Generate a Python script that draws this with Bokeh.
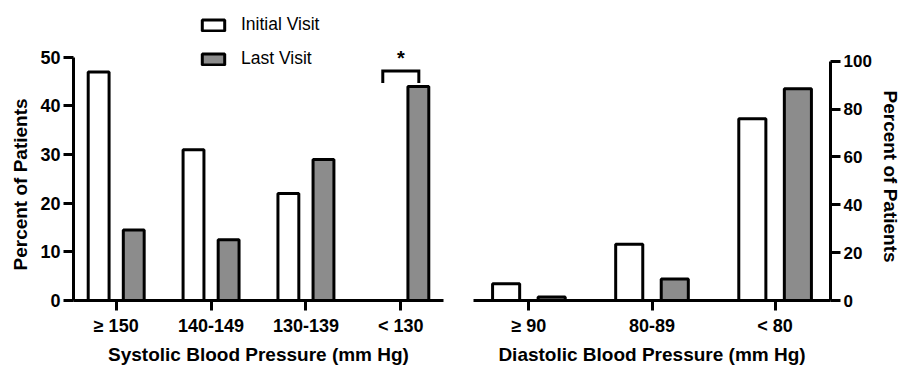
from bokeh.plotting import figure
from bokeh.layouts import row
from bokeh.models import (ColumnDataSource, FixedTicker, Legend, LegendItem,
                          Label, Range1d, Title)
from bokeh.transform import dodge
from bokeh.embed import file_html
from bokeh.resources import INLINE

# ---- data ----
sys_categories = ["\u2265 150", "140-149", "130-139", "< 130"]
sys_initial = [47, 31, 22, 0]
sys_last = [14.5, 12.5, 29, 44]

dia_categories = ["\u2265 90", "80-89", "< 80"]
dia_initial = [7, 23.5, 76]
dia_last = [1.5, 9, 88.5]

sys_ticks = [0, 10, 20, 30, 40, 50]
dia_ticks = [0, 20, 40, 60, 80, 100]
series_names = ["Initial Visit", "Last Visit"]
significant_category = "< 130"
y_title = "Percent of  Patients"

FONT = "Liberation Sans"
GRAY = "#8c8c8c"
OFFSET = 0.185
BAR_W = 0.22
H = 367
AXIS_Y = 301          # pixel row of the zero line
TOP_PAD = {"sys": 244.0, "dia": 240.0}   # pixel height of the bounded axes


def style(p, ticks, cats, ysize):
    p.xgrid.visible = False
    p.ygrid.visible = False
    p.outline_line_color = None
    p.background_fill_color = "white"
    p.border_fill_color = "white"
    for ax in p.xaxis + p.yaxis:
        ax.axis_line_width = 3
        ax.axis_line_color = "black"
        ax.major_tick_line_width = 3
        ax.major_tick_line_color = "black"
        ax.major_tick_in = 0
        ax.major_tick_out = 10
        ax.minor_tick_line_color = None
        ax.major_label_text_font = FONT
        ax.major_label_text_font_style = "bold"
        ax.major_label_text_color = "black"
        ax.axis_label_text_font = FONT
        ax.axis_label_text_font_style = "bold"
        ax.axis_label_text_font_size = "19px"
        ax.axis_label_text_color = "black"
    p.xaxis.major_label_text_font_size = "18px"
    p.yaxis.major_label_text_font_size = ysize
    p.xaxis.ticker = FixedTicker(ticks=list(range(len(cats))))
    p.xaxis.major_label_overrides = {i: c for i, c in enumerate(cats)}
    p.xaxis.major_label_standoff = 5
    p.xaxis.axis_label_standoff = 5
    p.yaxis.ticker = FixedTicker(ticks=ticks)
    p.yaxis.bounds = (ticks[0], ticks[-1])
    p.yaxis.major_label_standoff = 3


def bars(p, cats, init, last):
    src = ColumnDataSource(dict(x=list(range(len(cats))), init=init, last=last))
    r1 = p.vbar(x=dodge("x", -OFFSET), top="init", bottom=0, width=BAR_W,
                source=src, fill_color="white", line_color="black", line_width=3)
    r2 = p.vbar(x=dodge("x", OFFSET), top="last", bottom=0, width=BAR_W,
                source=src, fill_color=GRAY, line_color="black", line_width=3)
    return r1, r2


def ytitle(offset, standoff):
    return Title(text=y_title, align="left", offset=offset,
                 text_font=FONT, text_font_style="bold",
                 text_font_size="19px", text_color="black", standoff=standoff)


# ---- left: systolic ----
p1 = figure(width=458, height=H, output_backend="svg", toolbar_location=None,
            x_range=Range1d(-0.45, len(sys_categories) - 1 + 0.45),
            y_range=Range1d(0, sys_ticks[-1] * AXIS_Y / TOP_PAD["sys"]),
            min_border_left=73, min_border_right=15,
            min_border_top=0, min_border_bottom=H - AXIS_Y)
r1, r2 = bars(p1, sys_categories, sys_initial, sys_last)
style(p1, sys_ticks, sys_categories, "18px")
p1.xaxis.axis_label = "Systolic Blood Pressure (mm Hg)"
p1.add_layout(ytitle(30, 14), "left")

# significance bracket over "< 130"
k = sys_categories.index(significant_category)
leg_low = max(sys_initial[k], sys_last[k]) + 0.7
leg_high = leg_low + 2.5
bx = [k - OFFSET - 0.005, k - OFFSET - 0.005, k + OFFSET + 0.005, k + OFFSET + 0.005]
p1.line(x=bx, y=[leg_low, leg_high, leg_high, leg_low], line_color="black",
        line_width=3, line_join="miter")
p1.add_layout(Label(x=k, y=leg_high + 2.6, text="*", text_align="center",
                    text_baseline="alphabetic", text_font=FONT,
                    text_font_style="bold", text_font_size="20px",
                    text_color="black"))

legend = Legend(items=[LegendItem(label=series_names[0], renderers=[r1]),
                       LegendItem(label=series_names[1], renderers=[r2])],
                location=(126, 231), orientation="vertical",
                glyph_width=28, glyph_height=14, label_height=20,
                label_standoff=14, spacing=13, padding=0, margin=0,
                border_line_color=None, background_fill_alpha=0)
legend.label_text_font = FONT
legend.label_text_font_size = "17.5px"
legend.label_text_color = "black"
p1.add_layout(legend, "center")

# ---- right: diastolic ----
p2 = figure(width=449, height=H, output_backend="svg", toolbar_location=None,
            x_range=Range1d(-0.45, len(dia_categories) - 1 + 0.45),
            y_range=Range1d(0, dia_ticks[-1] * AXIS_Y / TOP_PAD["dia"]),
            y_axis_location="right",
            min_border_left=15, min_border_right=72,
            min_border_top=0, min_border_bottom=H - AXIS_Y)
bars(p2, dia_categories, dia_initial, dia_last)
style(p2, dia_ticks, dia_categories, "17px")
p2.xaxis.axis_label = "Diastolic Blood Pressure (mm Hg)"
p2.add_layout(ytitle(90, 10), "right")

layout = row(p1, p2)
open("out.html", "w").write(file_html(layout, INLINE))
